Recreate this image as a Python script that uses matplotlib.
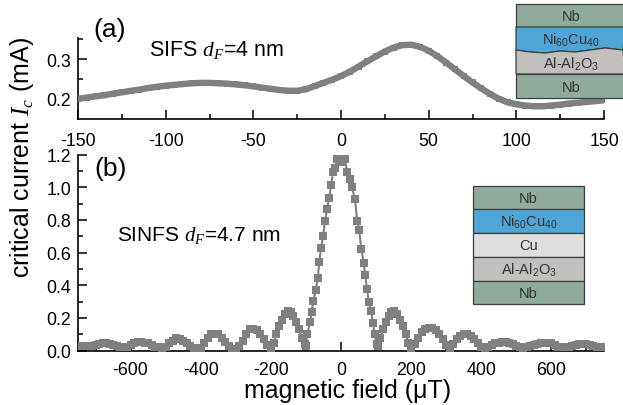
import matplotlib
matplotlib.use('Agg')
from matplotlib import pyplot as plt
from matplotlib.patches import Polygon

plt.rcParams['font.family'] = ['Liberation Sans', 'DejaVu Sans']
plt.rcParams['mathtext.fontset'] = 'custom'
plt.rcParams['mathtext.rm'] = 'Liberation Sans'
plt.rcParams['mathtext.it'] = 'Liberation Serif:italic'
plt.rcParams['mathtext.default'] = 'regular'
plt.rcParams['axes.unicode_minus'] = False

# panel (a), SIFS
field_a = list(range(-150, 155, 5))
ic_a = [.200, .203, .206, .209, .213, .216, .220, .223, .227, .230, .233, .235, .237, .239, .240, .240,
        .239, .238, .236, .234, .231, .228, .225, .222, .220, .220, .224, .232, .240, .248, .257,
        .268, .281, .294, .307, .319, .329, .335, .336, .331, .321, .307, .291, .274, .257, .241,
        .226, .212, .200, .191, .186, .183, .181, .181, .183, .185, .188, .190, .192, .194, .196]

# panel (b), SINFS: side lobes left, central lobe, side lobes right
field_left = [-750, -740, -730, -720, -710, -700, -690, -680, -670, -660, -650, -640, -630, -620, -610, -600,
              -590, -580, -570, -560, -550, -540, -530, -520, -510, -500, -490, -480, -470, -460, -450, -440,
              -430, -420, -410, -400, -390, -380, -370, -360, -350, -340, -330, -320, -310, -300, -290, -280,
              -270, -260, -250, -240, -230, -220, -210, -200, -192, -184, -176, -168, -160, -152, -144, -136,
              -128, -120, -112, -104]
ic_left = [.03, .03, .03, .03, .03, .035, .04, .045, .045, .04, .035, .03, .025, .02, .025, .035,
           .05, .055, .055, .05, .045, .035, .025, .02, .015, .025, .045, .06, .075, .07, .06, .045,
           .03, .015, .01, .015, .05, .08, .10, .105, .10, .08, .055, .03, .01, .01, .03, .06,
           .10, .13, .135, .125, .10, .07, .035, .01, .05, .10, .15, .19, .225, .24, .235, .21,
           .175, .13, .08, .04]
field_mid = [-101, -96, -88, -84, -79, -72, -66, -62, -57, -51, -46, -40, -34, -28, -23, -18, -10, -3,
             4, 11, 18, 25, 31, 40, 46, 52, 58, 65, 69, 74, 80, 86, 91, 96, 102]
ic_mid = [.03, .10, .176, .235, .302, .371, .445, .542, .628, .70, .791, .865, .934, 1.013, 1.09, 1.12, 1.17, 1.16,
          1.155, 1.17, 1.09, 1.05, 1.00, .928, .795, .74, .62, .535, .463, .379, .296, .243, .168, .104, .04]
field_right = [106, 112, 120, 128, 136, 144, 152, 160, 168, 176, 184, 192, 200, 210, 220, 230, 240, 250, 260,
               270, 280, 290, 300, 310, 320, 330, 340, 350, 360, 370, 380, 390, 400, 410, 420, 430, 440, 450,
               460, 470, 480, 490, 500, 510, 520, 530, 540, 550, 560, 570, 580, 590, 600, 610, 620, 630, 640,
               650, 660, 670, 680, 690, 700, 710, 720, 730, 740, 750]
ic_right = [.03, .08, .13, .175, .21, .235, .24, .225, .19, .15, .10, .05, .01, .04, .08, .115, .135, .14, .14,
            .125, .10, .07, .035, .015, .04, .07, .09, .10, .10, .09, .07, .045, .02, .015, .025, .035, .045, .05,
            .055, .055, .05, .04, .03, .02, .015, .02, .03, .035, .04, .045, .05, .05, .045, .035, .025, .02, .02,
            .025, .03, .035, .04, .04, .04, .035, .03, .025, .02, .02]

# insets, top to bottom
layers_a = ['Nb', 'Ni$_{60}$Cu$_{40}$', 'Al-Al$_{2}$O$_{3}$', 'Nb']
colors_a = ['#8fab9b', '#4fa5d5', '#c1c0bd', '#8fab9b']
layers_b = ['Nb', 'Ni$_{60}$Cu$_{40}$', 'Cu', 'Al-Al$_{2}$O$_{3}$', 'Nb']
colors_b = ['#8fab9b', '#4fa5d5', '#dedfdd', '#c1c0bd', '#8fab9b']

W, H = 623, 406
gray = '#808080'
ink = '#333333'


def place(left, top, right, bottom):
    return [left / W, 1 - bottom / H, (right - left) / W, (bottom - top) / H]


def style(ax):
    for s in ['top', 'right']:
        ax.spines[s].set_visible(False)
    for s in ['left', 'bottom']:
        ax.spines[s].set_linewidth(1.2)
    ax.tick_params(which='major', direction='in', length=6.5, width=1.1, labelsize=12.8, pad=5)
    ax.tick_params(which='minor', direction='in', length=3.5, width=1.1)


fig = plt.figure(figsize=(W / 100, H / 100), dpi=100)

ax_a = fig.add_axes(place(78, 39, 604, 120))
ax_a.plot(field_a, ic_a, color=gray, lw=4.6, marker='s', ms=4.8, mew=0, zorder=3)
ax_a.set_xlim(-150, 150)
ax_a.set_ylim(0.149, 0.353)
ax_a.set_xticks([-150, -100, -50, 0, 50, 100, 150])
ax_a.set_xticks([-125, -75, -25, 25, 75, 125], minor=True)
ax_a.set_yticks([0.2, 0.3])
ax_a.set_yticks([0.25, 0.35], minor=True)
style(ax_a)
ax_a.tick_params(axis='x', pad=9)

ax_b = fig.add_axes(place(78, 155.5, 604, 351.7))
ax_b.plot(field_left + field_mid + field_right, ic_left + ic_mid + ic_right, color=gray, lw=1.5,
          marker='s', ms=5.1, mew=0, zorder=3)
ax_b.set_xlim(-750, 750)
ax_b.set_ylim(0, 1.2)
ax_b.set_xticks([-600, -400, -200, 0, 200, 400, 600])
ax_b.set_xticks([-700, -500, -300, -100, 100, 300, 500, 700], minor=True)
ax_b.set_yticks([0, 0.2, 0.4, 0.6, 0.8, 1.0, 1.2])
ax_b.set_yticks([0.1, 0.3, 0.5, 0.7, 0.9, 1.1], minor=True)
ax_b.set_yticklabels(['0.0', '0.2', '0.4', '0.6', '0.8', '1.0', '1.2'])
style(ax_b)
ax_b.tick_params(axis='x', pad=7.5)

# overlay in pixel coordinates for the labels and layer sketches
ov = fig.add_axes([0, 0, 1, 1], zorder=5)
ov.set_xlim(0, W)
ov.set_ylim(H, 0)
ov.axis('off')

ov.text(93, 30, '(a)', fontsize=19, va='center')
ov.text(94, 169, '(b)', fontsize=19, va='center')
ov.text(149, 51, 'SIFS $\\mathit{d}_{\\mathit{F}}$=4 nm', fontsize=15.5, va='center')
ov.text(117, 236, 'SINFS $\\mathit{d}_{\\mathit{F}}$=4.7 nm', fontsize=15, va='center')
ov.text(22, 158, 'critical current $\\mathit{I}_{\\mathit{c}}$ (mA)', fontsize=18, rotation=90,
        ha='center', va='center')
ov.text(348, 391.5, 'magnetic field (\u03bcT)', fontsize=18, ha='center', va='center')

# inset (a), wavy top edge on the Al-Al2O3 layer
edge = '#3a3f3f'
bounds_a = [5, 28, 52, 75, 99]
wave_x = [516, 530, 545, 560, 575, 590, 605, 623]
wave_y = [51, 53, 54, 52, 53, 51, 49, 51]
xl, xr = 516, 625
ov.add_patch(Polygon([(xl, bounds_a[0]), (xr, bounds_a[0]), (xr, bounds_a[1]), (xl, bounds_a[1])],
                     fc=colors_a[0], ec=edge, lw=0.9))
ov.add_patch(Polygon([(xl, bounds_a[1]), (xr, bounds_a[1])] + list(zip(wave_x[::-1], wave_y[::-1])),
                     fc=colors_a[1], ec=edge, lw=0.9))
ov.add_patch(Polygon(list(zip(wave_x, wave_y)) + [(xr, bounds_a[3]), (xl, bounds_a[3])],
                     fc=colors_a[2], ec=edge, lw=0.9))
ov.add_patch(Polygon([(xl, bounds_a[3]), (xr, bounds_a[3]), (xr, bounds_a[4]), (xl, bounds_a[4])],
                     fc=colors_a[3], ec=edge, lw=0.9))
for i, name in enumerate(layers_a):
    ov.text(571, (bounds_a[i] + bounds_a[i + 1]) / 2 + 0.5, name, fontsize=10.5, color=ink, ha='center', va='center')

bounds_b = [186.7, 210.3, 233.7, 258, 281.7, 305]
xl, xr = 473, 584
for i, name in enumerate(layers_b):
    y0, y1 = bounds_b[i], bounds_b[i + 1]
    ov.add_patch(Polygon([(xl, y0), (xr, y0), (xr, y1), (xl, y1)], fc=colors_b[i], ec=edge, lw=0.9))
    ov.text((xl + xr) / 2, (y0 + y1) / 2 + 0.5, name, fontsize=10.5, color=ink, ha='center', va='center')

fig.savefig('out.png', dpi=100)
